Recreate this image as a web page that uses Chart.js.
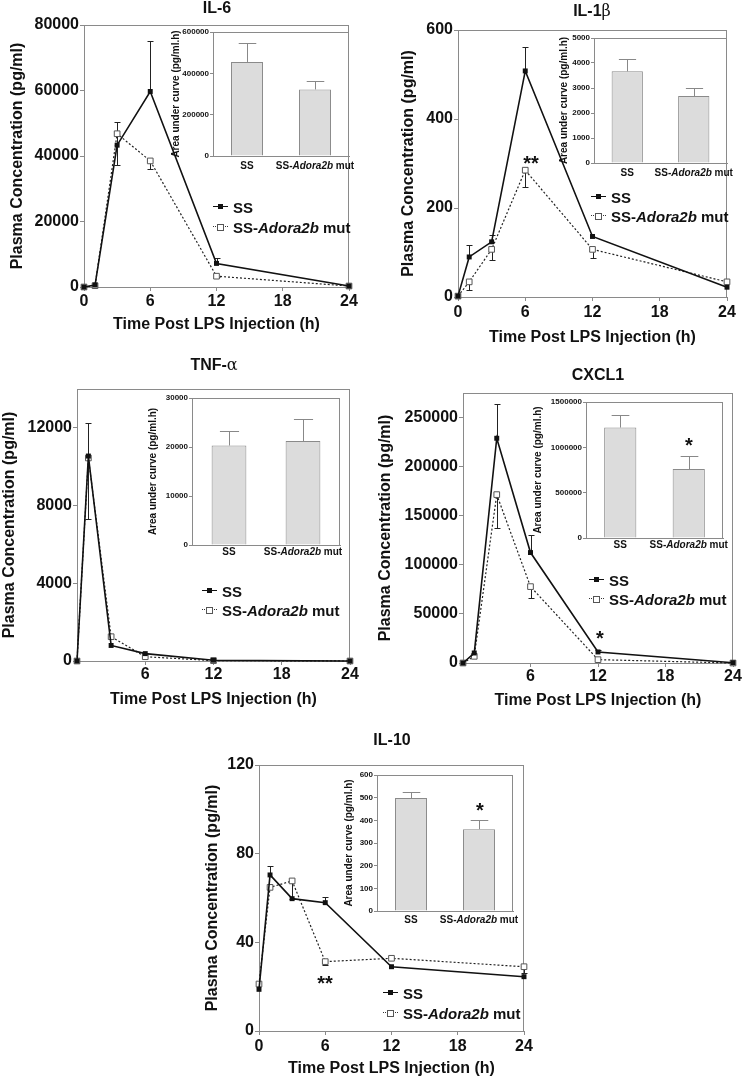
<!DOCTYPE html>
<html>
<head>
<meta charset="utf-8">
<script src="https://cdn.jsdelivr.net/npm/chart.js@4.4.1/dist/chart.umd.min.js"></script>
<style>
  body { margin: 0; width: 742px; height: 1077px; position: relative; overflow: hidden; background: #fff;
         font-family: "Liberation Sans", Arial, Helvetica, sans-serif; color: #111; }
  canvas { position: absolute; }
  .txt { position: absolute; font-weight: bold; line-height: 1; white-space: nowrap; transform: translate(-50%, -50%); z-index: 5; }
  .leg { position: absolute; font-weight: bold; font-size: 15px; line-height: 1; white-space: nowrap; transform: translateY(-50%); z-index: 5; }
  .greek { font-family: "DejaVu Serif", "Liberation Serif", serif; font-weight: normal; }
  .sym { position: absolute; z-index: 5; }
</style>
</head>
<body>
<script>
const FONT = '"Liberation Sans", Arial, Helvetica, sans-serif';
const INK = '#111';
const AXIS = '#8a8a8a';

// sampling times and groups
const hours = [0, 1, 3, 6, 12, 24];
const groups = ['SS', 'SS-Adora2b mut'];
const xTicksFull = [0, 6, 12, 18, 24];
const xTicksNoZero = [6, 12, 18, 24];

// IL-6
const il6SS = [0, 600, 43300, 59700, 7200, 300];
const il6SSErr = [0, 0, 7200, 15500, 1800, 0];
const il6Mut = [0, 400, 46800, 38500, 3300, 300];
const il6MutErr = [0, 0, 9500, 2500, 300, 0];
const il6Ticks = [0, 20000, 40000, 60000, 80000];
const il6Auc = [455000, 322000];
const il6AucErr = [90000, 40000];
const il6AucTicks = [0, 200000, 400000, 600000];

// IL-1beta
const il1bSS = [2, 90, 124, 508, 136, 22];
const il1bSSErr = [0, 27, 15, 54, 0, 0];
const il1bMut = [2, 34, 107, 285, 107, 34];
const il1bMutErr = [0, 19, 23, 38, 19, 0];
const il1bTicks = [0, 200, 400, 600];
const il1bAuc = [3667, 2680];
const il1bAucErr = [493, 320];
const il1bAucTicks = [0, 1000, 2000, 3000, 4000, 5000];

// TNF-alpha
const tnfSS = [0, 10550, 800, 380, 40, 0];
const tnfSSErr = [0, 1700, 0, 0, 0, 0];
const tnfMut = [0, 10450, 1250, 220, 20, 0];
const tnfMutErr = [0, 3150, 0, 0, 0, 0];
const tnfTicks = [0, 4000, 8000, 12000];
const tnfAuc = [20300, 21200];
const tnfAucErr = [3000, 4550];
const tnfAucTicks = [0, 10000, 20000, 30000];

// CXCL1
const cxclSS = [0, 10200, 228900, 112500, 11250, 300];
const cxclSSErr = [0, 0, 34700, 17800, 2500, 0];
const cxclMut = [0, 6800, 171500, 77800, 3400, 0];
const cxclMutErr = [0, 0, 34100, 12000, 0, 0];
const cxclTicks = [0, 50000, 100000, 150000, 200000, 250000];
const cxclAuc = [1218000, 761000];
const cxclAucErr = [136000, 139000];
const cxclAucTicks = [0, 500000, 1000000, 1500000];

// IL-10
const il10SS = [18.8, 70.4, 59.7, 57.9, 29, 24.5];
const il10SSErr = [0, 4.2, 0, 2.7, 0, 0];
const il10Mut = [21.2, 64.8, 67.7, 31.3, 32.8, 29];
const il10MutErr = [0, 0, 8, 1.5, 0, 3];
const il10Ticks = [0, 40, 80, 120];
const il10Auc = [498, 361];
const il10AucErr = [27, 41];
const il10AucTicks = [0, 100, 200, 300, 400, 500, 600];

// plot box around the chart area (white fill for the insets)
const framePlugin = {
  id: 'frame',
  beforeDraw(chart, args, opts) {
    if (!opts.fill) return;
    const a = chart.chartArea;
    chart.ctx.save();
    chart.ctx.fillStyle = opts.fill;
    chart.ctx.fillRect(a.left, a.top, a.right - a.left, a.bottom - a.top);
    chart.ctx.restore();
  },
  beforeDatasetsDraw(chart) {
    const a = chart.chartArea, ctx = chart.ctx;
    ctx.save();
    ctx.strokeStyle = AXIS;
    ctx.lineWidth = 1;
    ctx.strokeRect(Math.round(a.left) + 0.5, Math.round(a.top) + 0.5,
      Math.round(a.right - a.left) - 1, Math.round(a.bottom - a.top));
    ctx.restore();
  }
};

// one-sided SEM bars (SS up, mutant down)
const errorBarPlugin = {
  id: 'errorBars',
  beforeDatasetsDraw(chart, args, opts) {
    const ctx = chart.ctx, ys = chart.scales.y;
    ctx.save();
    ctx.strokeStyle = opts.color || INK;
    ctx.lineWidth = 1;
    chart.data.datasets.forEach((ds, i) => {
      if (!ds.err) return;
      chart.getDatasetMeta(i).data.forEach((el, j) => {
        const e = ds.err[j];
        if (!e) return;
        const v = typeof ds.data[j] === 'object' ? ds.data[j].y : ds.data[j];
        const x = Math.round(el.x) + 0.5;
        const y1 = ys.getPixelForValue(v);
        const y2 = Math.round(ys.getPixelForValue(v + ds.errDir * e)) + 0.5;
        const half = opts.capRatio ? el.width * opts.capRatio / 2 : opts.cap / 2;
        ctx.beginPath();
        ctx.moveTo(x, y1);
        ctx.lineTo(x, y2);
        ctx.moveTo(x - half, y2);
        ctx.lineTo(x + half, y2);
        ctx.stroke();
      });
    });
    ctx.restore();
  }
};

// inset category labels with the italic gene name
const groupLabelPlugin = {
  id: 'groupLabels',
  afterDraw(chart, args, opts) {
    const ctx = chart.ctx, xs = chart.scales.x;
    ctx.save();
    ctx.fillStyle = INK;
    ctx.textBaseline = 'middle';
    ctx.textAlign = 'left';
    chart.data.labels.forEach((lab, i) => {
      const parts = lab.split(/(Adora2b)/).filter(Boolean);
      const fonts = parts.map(p => (p === 'Adora2b' ? 'italic ' : '') + 'bold ' + opts.size + 'px ' + FONT);
      let total = 0;
      const widths = parts.map((p, k) => { ctx.font = fonts[k]; const w = ctx.measureText(p).width; total += w; return w; });
      let x = xs.getPixelForValue(i) - total / 2;
      parts.forEach((p, k) => { ctx.font = fonts[k]; ctx.fillText(p, x, opts.y); x += widths[k]; });
    });
    ctx.restore();
  }
};

function makeCanvas(x, y, w, h, z) {
  const cv = document.createElement('canvas');
  cv.width = Math.round(w);
  cv.height = Math.round(h);
  cv.style.left = x + 'px';
  cv.style.top = y + 'px';
  cv.style.zIndex = z;
  document.body.appendChild(cv);
  return cv;
}

function boldFont(size) {
  return { family: FONT, size: size, weight: 'bold', lineHeight: 1.2 };
}

function linePanel(cfg) {
  const a = cfg.area;
  const lh = 16 * 1.2;
  const padTop = 12, padRight = 14;
  const x0 = Math.round(cfg.yTitleX - lh / 2);
  const y0 = a.t - padTop;
  const xH = Math.round(cfg.xTitleY + lh / 2 - a.b);
  const cv = makeCanvas(x0, y0, a.r + padRight - x0, a.b + xH - y0, 1);
  const axisGrid = { drawOnChartArea: false, tickLength: 4, color: AXIS, lineWidth: 1 };
  new Chart(cv, {
    type: 'line',
    data: {
      datasets: [
        {
          label: 'SS', data: hours.map((h, i) => ({ x: h, y: cfg.ss[i] })),
          err: cfg.ssErr, errDir: 1,
          borderColor: INK, borderWidth: 1.6, clip: false,
          pointStyle: 'rect', pointRadius: 3.5, pointBackgroundColor: INK, pointBorderColor: INK, pointBorderWidth: 0
        },
        {
          label: 'SS-Adora2b mut', data: hours.map((h, i) => ({ x: h, y: cfg.mut[i] })),
          err: cfg.mutErr, errDir: -1,
          borderColor: '#222', borderWidth: 1.2, borderDash: [2, 2], clip: false,
          pointStyle: 'rect', pointRadius: 4, pointBackgroundColor: '#fff', pointBorderColor: '#555', pointBorderWidth: 1
        }
      ]
    },
    options: {
      responsive: false, animation: false, events: [],
      layout: { padding: { top: padTop, right: padRight, left: 0, bottom: 0 } },
      plugins: { legend: { display: false }, tooltip: { enabled: false }, errorBars: { color: '#222', cap: 6 } },
      scales: {
        x: {
          type: 'linear', min: 0, max: 24,
          afterBuildTicks: s => { s.ticks = cfg.xTicks.map(v => ({ value: v })); },
          afterFit: s => { s.height = xH; },
          grid: axisGrid, border: { color: AXIS, width: 1 },
          ticks: { padding: cfg.xLabY - a.b - 4 - lh / 2, font: boldFont(16), color: INK, maxRotation: 0, autoSkip: false, callback: v => String(v) },
          title: { display: true, text: 'Time Post LPS Injection (h)', padding: 0, color: INK, font: boldFont(16) }
        },
        y: {
          min: 0, max: cfg.yMax,
          afterBuildTicks: s => { s.ticks = cfg.yTicks.map(v => ({ value: v })); },
          afterFit: s => { s.width = a.l - x0; },
          grid: axisGrid, border: { color: AXIS, width: 1 },
          ticks: { padding: 1, font: boldFont(16), color: INK, autoSkip: false, callback: v => String(v) },
          title: { display: true, text: 'Plasma Concentration (pg/ml)', padding: 0, color: INK, font: boldFont(16) }
        }
      }
    },
    plugins: [framePlugin, errorBarPlugin]
  });
}

function barPanel(cfg) {
  const a = cfg.area;
  const lh = 10 * 1.2;
  const padRight = 22;
  const x0 = Math.round(cfg.yTitleX - lh / 2);
  const y0 = a.t - 6;
  const xH = cfg.xLabY + 8 - a.b;
  const cv = makeCanvas(x0, y0, a.r + padRight - x0, a.b + xH - y0, 2);
  new Chart(cv, {
    type: 'bar',
    data: {
      labels: groups,
      datasets: [{
        data: cfg.auc, err: cfg.aucErr, errDir: 1,
        backgroundColor: '#dcdcdc', borderColor: AXIS, borderWidth: 1,
        barPercentage: 0.47, categoryPercentage: 1
      }]
    },
    options: {
      responsive: false, animation: false, events: [],
      layout: { padding: { top: 6, right: padRight, left: 0, bottom: 0 } },
      plugins: {
        legend: { display: false }, tooltip: { enabled: false },
        frame: { fill: '#fff' },
        errorBars: { color: '#888', capRatio: 0.55 },
        groupLabels: { y: cfg.xLabY - y0, size: 10 }
      },
      scales: {
        x: {
          ticks: { display: false }, grid: { display: false }, border: { color: AXIS },
          afterFit: s => { s.height = xH; }
        },
        y: {
          min: 0, max: cfg.yMax,
          afterBuildTicks: s => { s.ticks = cfg.yTicks.map(v => ({ value: v })); },
          afterFit: s => { s.width = a.l - x0; },
          grid: { drawOnChartArea: false, tickLength: 3, color: AXIS }, border: { color: AXIS },
          ticks: { padding: 1, font: boldFont(8), color: INK, autoSkip: false, callback: v => String(v) },
          title: { display: true, text: 'Area under curve (pg/ml.h)', padding: 0, color: INK, font: boldFont(10) }
        }
      }
    },
    plugins: [framePlugin, errorBarPlugin, groupLabelPlugin]
  });
}

function addText(html, x, y, size) {
  const d = document.createElement('div');
  d.className = 'txt';
  d.style.left = x + 'px';
  d.style.top = y + 'px';
  d.style.fontSize = size + 'px';
  d.innerHTML = html;
  document.body.appendChild(d);
}

function addLegend(x, ySS, yMut) {
  [[ySS, 'SS', true], [yMut, 'SS-<i>Adora2b</i> mut', false]].forEach(([y, text, solid]) => {
    const line = document.createElement('div');
    line.className = 'sym';
    line.style.cssText += `left:${x}px;top:${y - 1}px;width:15px;height:0;border-top:${solid ? '1.6px solid #111' : '1.3px dotted #333'};`;
    document.body.appendChild(line);
    const sq = document.createElement('div');
    sq.className = 'sym';
    sq.style.cssText += solid
      ? `left:${x + 5}px;top:${y - 3}px;width:5px;height:5px;background:#111;`
      : `left:${x + 4}px;top:${y - 3.5}px;width:5px;height:5px;background:#fff;border:1px solid #555;`;
    document.body.appendChild(sq);
    const t = document.createElement('div');
    t.className = 'leg';
    t.style.left = (x + 20) + 'px';
    t.style.top = y + 'px';
    t.innerHTML = text;
    document.body.appendChild(t);
  });
}

// main time-course panels
linePanel({ area: { l: 84, t: 25, r: 349, b: 287 }, yTitleX: 18, xLabY: 302, xTitleY: 324,
  yMax: 80000, yTicks: il6Ticks, xTicks: xTicksFull, ss: il6SS, ssErr: il6SSErr, mut: il6Mut, mutErr: il6MutErr });
linePanel({ area: { l: 458, t: 30, r: 727, b: 297 }, yTitleX: 409, xLabY: 313, xTitleY: 337,
  yMax: 600, yTicks: il1bTicks, xTicks: xTicksFull, ss: il1bSS, ssErr: il1bSSErr, mut: il1bMut, mutErr: il1bMutErr });
linePanel({ area: { l: 77, t: 389, r: 350, b: 661 }, yTitleX: 10, xLabY: 675, xTitleY: 699,
  yMax: 14000, yTicks: tnfTicks, xTicks: xTicksNoZero, ss: tnfSS, ssErr: tnfSSErr, mut: tnfMut, mutErr: tnfMutErr });
linePanel({ area: { l: 463, t: 393, r: 733, b: 663 }, yTitleX: 386, xLabY: 677, xTitleY: 700,
  yMax: 275000, yTicks: cxclTicks, xTicks: xTicksNoZero, ss: cxclSS, ssErr: cxclSSErr, mut: cxclMut, mutErr: cxclMutErr });
linePanel({ area: { l: 259, t: 765, r: 524, b: 1031 }, yTitleX: 213, xLabY: 1047, xTitleY: 1068,
  yMax: 120, yTicks: il10Ticks, xTicks: xTicksFull, ss: il10SS, ssErr: il10SSErr, mut: il10Mut, mutErr: il10MutErr });

// AUC insets
barPanel({ area: { l: 213, t: 32, r: 349, b: 156 }, yTitleX: 176, xLabY: 166, yMax: 600000, yTicks: il6AucTicks, auc: il6Auc, aucErr: il6AucErr });
barPanel({ area: { l: 594, t: 38, r: 727, b: 163 }, yTitleX: 564, xLabY: 173, yMax: 5000, yTicks: il1bAucTicks, auc: il1bAuc, aucErr: il1bAucErr });
barPanel({ area: { l: 192, t: 398, r: 340, b: 545 }, yTitleX: 153, xLabY: 552, yMax: 30000, yTicks: tnfAucTicks, auc: tnfAuc, aucErr: tnfAucErr });
barPanel({ area: { l: 586, t: 402, r: 723, b: 538 }, yTitleX: 538, xLabY: 545, yMax: 1500000, yTicks: cxclAucTicks, auc: cxclAuc, aucErr: cxclAucErr });
barPanel({ area: { l: 377, t: 775, r: 513, b: 911 }, yTitleX: 349, xLabY: 920, yMax: 600, yTicks: il10AucTicks, auc: il10Auc, aucErr: il10AucErr });

// panel titles
addText('IL-6', 217, 8, 16);
addText('IL-1<span class="greek">β</span>', 592, 11, 16);
addText('TNF-<span class="greek">α</span>', 214, 365, 16);
addText('CXCL1', 598, 375, 16);
addText('IL-10', 392, 740, 16);

// significance marks
addText('**', 531, 163, 20);
addText('*', 600, 638, 20);
addText('*', 689, 445, 20);
addText('**', 325, 983, 20);
addText('*', 480, 810, 20);

// legends
addLegend(213, 207, 227);
addLegend(591, 197, 216);
addLegend(202, 591, 610);
addLegend(589, 580, 599);
addLegend(383, 993, 1013);
</script>
</body>
</html>
